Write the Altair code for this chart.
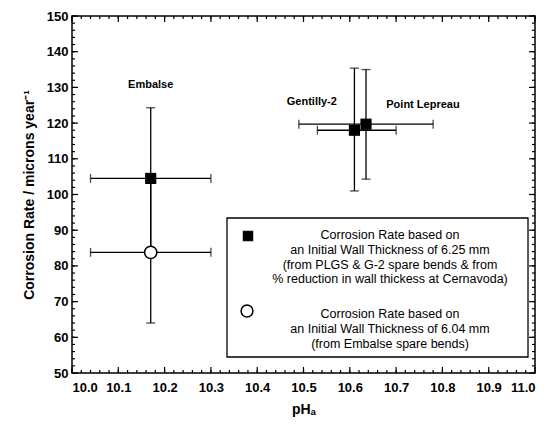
import altair as alt
import pandas as pd

# ---- data ----
sites = ["Embalse", "Gentilly-2", "Point Lepreau"]
ph = [10.17, 10.61, 10.635]
rate = [104.5, 118.0, 119.7]
ph_lo = [10.04, 10.53, 10.49]
ph_hi = [10.30, 10.70, 10.78]
rate_lo = [84.7, 101.0, 104.3]
rate_hi = [124.3, 135.4, 135.0]

open_ph = [10.17]
open_rate = [83.8]
open_ph_lo = [10.04]
open_ph_hi = [10.30]
open_rate_lo = [64.0]
open_rate_hi = [103.6]

label_text = ["Embalse", "Gentilly-2", "Point Lepreau"]
label_ph = [10.17, 10.518, 10.758]
label_rate = [130.7, 126.0, 125.1]

x_major = [round(10.0 + 0.1 * i, 2) for i in range(11)]
x_minor = [round(10.0 + 0.02 * i, 2) for i in range(51)]
y_major = [50 + 10 * i for i in range(11)]
y_minor = [50 + 2 * i for i in range(51)]

legend_filled = ["Corrosion Rate based on",
                 "an Initial Wall Thickness of 6.25 mm",
                 "(from PLGS & G-2 spare bends & from",
                 "% reduction in wall thickess at Cernavoda)"]
legend_open = ["Corrosion Rate based on",
               "an Initial Wall Thickness of 6.04 mm",
               "(from Embalse spare bends)"]

W, H = 463, 357
FONT = "Liberation Sans"

filled = pd.DataFrame(dict(site=sites, ph=ph, rate=rate, ph_lo=ph_lo, ph_hi=ph_hi,
                           rate_lo=rate_lo, rate_hi=rate_hi))
opened = pd.DataFrame(dict(ph=open_ph, rate=open_rate, ph_lo=open_ph_lo, ph_hi=open_ph_hi,
                           rate_lo=open_rate_lo, rate_hi=open_rate_hi))
pts = pd.concat([filled, opened], ignore_index=True)
labels = pd.DataFrame(dict(text=label_text, ph=label_ph, rate=label_rate))

xs = alt.Scale(domain=[10.0, 11.0], nice=False, zero=False)
ys = alt.Scale(domain=[50, 150], nice=False, zero=False)

x_axis = alt.Axis(values=x_major, format=".1f", ticks=False, grid=False,
                  domain=False, labelPadding=8, titlePadding=8,
                  labelFont=FONT, labelFontSize=13, labelFontWeight="bold",
                  labelColor="black", titleFont=FONT, titleFontSize=14,
                  titleFontWeight="bold", titleColor="black")
y_axis = alt.Axis(values=y_major, ticks=False, grid=False, domain=False,
                  labelPadding=4, titlePadding=10,
                  labelFont=FONT, labelFontSize=13, labelFontWeight="bold",
                  labelColor="black", titleFont=FONT, titleFontSize=14,
                  titleFontWeight="bold", titleColor="black")
X_TITLE = "pHₐ"
Y_TITLE = "Corrosion Rate / microns year⁻¹"


def X(f):
    return alt.X(f, type="quantitative", scale=xs, axis=x_axis, title=X_TITLE)


def Y(f):
    return alt.Y(f, type="quantitative", scale=ys, axis=y_axis, title=Y_TITLE)


hbar = alt.Chart(pts).mark_rule(color="black", strokeWidth=1.3).encode(
    x=X("ph_lo"), x2="ph_hi", y=Y("rate"))
vbar = alt.Chart(pts).mark_rule(color="black", strokeWidth=1.3).encode(
    x=X("ph"), y=Y("rate_lo"), y2="rate_hi")
hcap_lo = alt.Chart(pts).mark_tick(orient="vertical", size=9, thickness=1.3, color="black").encode(
    x=X("ph_lo"), y=Y("rate"))
hcap_hi = alt.Chart(pts).mark_tick(orient="vertical", size=9, thickness=1.3, color="black").encode(
    x=X("ph_hi"), y=Y("rate"))
vcap_lo = alt.Chart(pts).mark_tick(orient="horizontal", size=9, thickness=1.3, color="black").encode(
    x=X("ph"), y=Y("rate_lo"))
vcap_hi = alt.Chart(pts).mark_tick(orient="horizontal", size=9, thickness=1.3, color="black").encode(
    x=X("ph"), y=Y("rate_hi"))

sq = alt.Chart(filled).mark_square(size=125, color="black", opacity=1).encode(
    x=X("ph"), y=Y("rate"))
circ = alt.Chart(opened).mark_circle(size=150, fill="white", stroke="black",
                                     strokeWidth=1.5, opacity=1).encode(
    x=X("ph"), y=Y("rate"))

lab = alt.Chart(labels).mark_text(font=FONT, fontSize=11, fontWeight="bold",
                                  color="black", baseline="middle").encode(
    x=X("ph"), y=Y("rate"), text="text:N")

# inward ticks
tick_layers = []
for vals, ln in ((x_major, 6), (x_minor, 3)):
    d = pd.DataFrame(dict(v=vals))
    tick_layers.append(alt.Chart(d).mark_rule(color="black", strokeWidth=1.2).encode(
        x=X("v"), y=alt.value(H), y2=alt.value(H - ln)))
    tick_layers.append(alt.Chart(d).mark_rule(color="black", strokeWidth=1.2).encode(
        x=X("v"), y=alt.value(0), y2=alt.value(ln)))
for vals, ln in ((y_major, 6), (y_minor, 3)):
    d = pd.DataFrame(dict(v=vals))
    tick_layers.append(alt.Chart(d).mark_rule(color="black", strokeWidth=1.2).encode(
        y=Y("v"), x=alt.value(0), x2=alt.value(ln)))
    tick_layers.append(alt.Chart(d).mark_rule(color="black", strokeWidth=1.2).encode(
        y=Y("v"), x=alt.value(W), x2=alt.value(W - ln)))

# legend box
leg_df = pd.DataFrame(dict(a=[0]))
leg_box = alt.Chart(leg_df).mark_rect(fill="white", stroke="black", strokeWidth=1.3).encode(
    x=alt.value(155), x2=alt.value(456), y=alt.value(202), y2=alt.value(341))
leg_sq = alt.Chart(leg_df).mark_square(size=110, color="black", opacity=1).encode(
    x=alt.value(176), y=alt.value(220))
leg_circ = alt.Chart(leg_df).mark_point(shape="circle", size=140, fill="white", stroke="black",
                                         strokeWidth=1.5, opacity=1, filled=False).encode(
    x=alt.value(175), y=alt.value(295))
leg_t1 = alt.Chart(leg_df).mark_text(text=legend_filled, font=FONT, fontSize=12.5, color="black",
                                     align="center", baseline="top", lineHeight=14.8).encode(
    x=alt.value(318), y=alt.value(213))
leg_t2 = alt.Chart(leg_df).mark_text(text=legend_open, font=FONT, fontSize=12.5, color="black",
                                     align="center", baseline="top", lineHeight=14.8).encode(
    x=alt.value(318), y=alt.value(292))

chart = alt.layer(
    hbar, vbar, hcap_lo, hcap_hi, vcap_lo, vcap_hi, circ, sq, lab,
    *tick_layers, leg_box, leg_sq, leg_circ, leg_t1, leg_t2
).properties(
    width=W, height=H,
    autosize=alt.AutoSizeParams(type="none"),
    padding={"left": 72, "top": 16, "right": 18, "bottom": 52},
).configure(background="white").configure_view(stroke="black", strokeWidth=1.5)

chart.save("out.html", embed_options={"renderer": "svg", "actions": False})
